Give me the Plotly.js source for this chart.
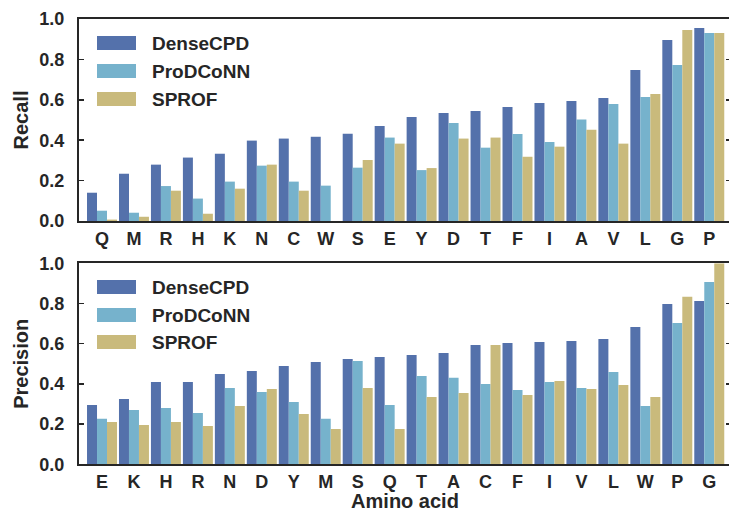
<!DOCTYPE html>
<html>
<head>
<meta charset="utf-8">
<script src="https://cdn.plot.ly/plotly-3.0.1.min.js"></script>
<style>
html, body { margin: 0; padding: 0; overflow: hidden; background: #fff; }
#chart { width: 733px; height: 512px; }
</style>
</head>
<body>
<div id="chart"></div>
<script>
// ---- data ----
const seriesNames = ["DenseCPD", "ProDCoNN", "SPROF"];

const recallCategories = ["Q","M","R","H","K","N","C","W","S","E","Y","D","T","F","I","A","V","L","G","P"];
const recallDenseCPD = [0.140,0.234,0.279,0.314,0.333,0.398,0.408,0.417,0.432,0.470,0.515,0.535,0.545,0.564,0.584,0.594,0.609,0.748,0.896,0.955];
const recallProDCoNN = [0.051,0.041,0.173,0.111,0.195,0.274,0.195,0.175,0.264,0.413,0.252,0.485,0.363,0.431,0.391,0.502,0.579,0.614,0.772,0.931];
const recallSPROF    = [0.007,0.021,0.150,0.036,0.160,0.279,0.150,0.000,0.302,0.383,0.262,0.408,0.413,0.318,0.368,0.452,0.383,0.629,0.946,0.931];

const precisionCategories = ["E","K","H","R","N","D","Y","M","S","Q","T","A","C","F","I","V","L","W","P","G"];
const precisionDenseCPD = [0.295,0.325,0.410,0.410,0.449,0.464,0.489,0.509,0.524,0.534,0.544,0.554,0.594,0.604,0.609,0.614,0.624,0.683,0.798,0.813];
const precisionProDCoNN = [0.226,0.270,0.280,0.255,0.380,0.360,0.310,0.226,0.514,0.295,0.439,0.430,0.400,0.370,0.410,0.380,0.459,0.290,0.703,0.907];
const precisionSPROF    = [0.211,0.196,0.211,0.191,0.290,0.375,0.250,0.176,0.380,0.176,0.335,0.355,0.594,0.345,0.415,0.375,0.395,0.335,0.833,1.000];

const yTickVals = [0, 0.2, 0.4, 0.6, 0.8, 1.0];
const yTickText = ["0.0", "0.2", "0.4", "0.6", "0.8", "1.0"];

// ---- styles ----
const colors = ["#5471ab", "#76b2cc", "#c9ba7c"];
const ink = "#262626";
const FONT = "Liberation Sans, Arial, sans-serif";

const traces = [];
const recallSets = [recallDenseCPD, recallProDCoNN, recallSPROF];
const precisionSets = [precisionDenseCPD, precisionProDCoNN, precisionSPROF];
for (let i = 0; i < 3; i++) {
  traces.push({type: "bar", name: seriesNames[i], x: recallCategories, y: recallSets[i],
    marker: {color: colors[i], line: {width: 0}}, xaxis: "x", yaxis: "y", showlegend: false, hoverinfo: "skip"});
}
for (let i = 0; i < 3; i++) {
  traces.push({type: "bar", name: seriesNames[i], x: precisionCategories, y: precisionSets[i],
    marker: {color: colors[i], line: {width: 0}}, xaxis: "x2", yaxis: "y2", showlegend: false, hoverinfo: "skip"});
}

const W = 733, H = 512, L = 79, R = 2;
const PW = W - L - R;
const px = v => (v - L) / PW;
const py = v => 1 - v / H;

const xAxisBase = {
  type: "category", range: [-0.72, 19.68], showgrid: false, zeroline: false,
  showline: true, linecolor: ink, linewidth: 2, mirror: true, ticks: "",
  tickfont: {family: FONT, size: 18, color: ink, weight: "bold"}, fixedrange: true
};
const yAxisBase = {
  range: [0, 1], showgrid: false, zeroline: false, showline: true, linecolor: ink, linewidth: 2,
  mirror: "ticks", ticks: "inside", ticklen: 5, tickwidth: 1.5, tickcolor: ink,
  tickvals: yTickVals, ticktext: yTickText, ticklabelstandoff: 9,
  tickfont: {family: FONT, size: 18, color: ink, weight: "bold"}, fixedrange: true
};

const shapes = [];
const annotations = [];
const legendRows = [[43, 71, 99], [287, 315, 342]];
legendRows.forEach(rows => {
  rows.forEach((cy, i) => {
    shapes.push({type: "rect", xref: "paper", yref: "paper",
      x0: px(97), x1: px(136), y0: py(cy + 7), y1: py(cy - 7),
      fillcolor: colors[i], line: {width: 0}});
    annotations.push({xref: "paper", yref: "paper", x: px(150), y: py(cy), xanchor: "left", yanchor: "middle",
      text: seriesNames[i], showarrow: false,
      font: {family: FONT, size: 19, color: ink, weight: "bold"}});
  });
});

const layout = {
  width: W, height: H,
  margin: {l: L, r: R, t: 0, b: 0},
  paper_bgcolor: "#fff", plot_bgcolor: "#fff",
  barmode: "group", bargap: 0.062, bargroupgap: 0,
  showlegend: false,
  xaxis: Object.assign({}, xAxisBase, {anchor: "y"}),
  yaxis: Object.assign({}, yAxisBase, {domain: [1 - 221/H, 1 - 19/H], anchor: "x",
    title: {text: "Recall", font: {family: FONT, size: 20, color: ink, weight: "bold"}, standoff: 5}}),
  xaxis2: Object.assign({}, xAxisBase, {anchor: "y2",
    title: {text: "Amino acid", font: {family: FONT, size: 20, color: ink, weight: "bold"}, standoff: 14}}),
  yaxis2: Object.assign({}, yAxisBase, {domain: [1 - 464.3/H, 1 - 263.3/H], anchor: "x2",
    title: {text: "Precision", font: {family: FONT, size: 20, color: ink, weight: "bold"}, standoff: 5}}),
  shapes: shapes,
  annotations: annotations
};

Plotly.newPlot("chart", traces, layout, {displayModeBar: false, staticPlot: true});
</script>
</body>
</html>
